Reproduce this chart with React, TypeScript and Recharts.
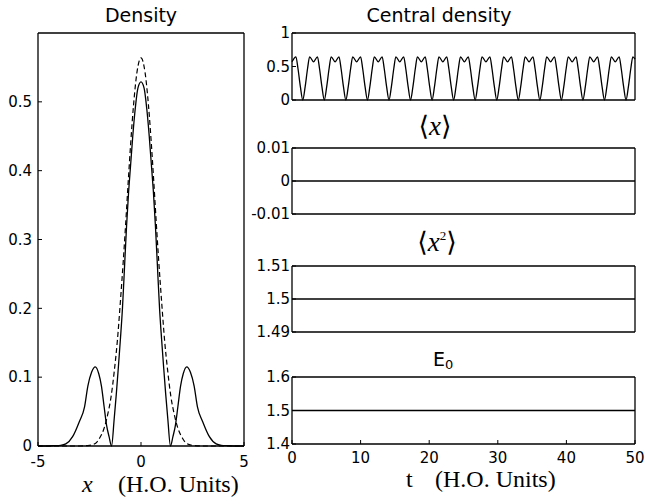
import { LineChart, Line, XAxis, YAxis } from 'recharts';

// Left panel: density profile vs x
const densityX = [-5, -4.6, -4.2, -3.9, -3.65, -3.32, -3.0, -2.74, -2.58, -2.4, -2.22, -2.05, -1.92, -1.79, -1.67, -1.55, -1.43, -1.3, -1.2, -1.1, -1.0, -0.9, -0.8, -0.7, -0.6, -0.5, -0.4, -0.28, -0.15, 0,
  0.15, 0.28, 0.4, 0.5, 0.6, 0.7, 0.8, 0.9, 1.0, 1.1, 1.2, 1.3, 1.43, 1.55, 1.67, 1.79, 1.92, 2.05, 2.22, 2.4, 2.58, 2.74, 3.0, 3.32, 3.65, 3.9, 4.2, 4.6, 5];
const densitySolid = [0, 0, 0.0005, 0.001, 0.003, 0.0136, 0.035, 0.057, 0.087, 0.107, 0.115, 0.105, 0.087, 0.057, 0.03, 0.0136, 0, 0.04, 0.075, 0.114, 0.155, 0.2, 0.26, 0.32, 0.37, 0.41, 0.45, 0.49, 0.52, 0.529,
  0.52, 0.49, 0.45, 0.41, 0.37, 0.32, 0.26, 0.2, 0.155, 0.114, 0.075, 0.04, 0, 0.0136, 0.03, 0.057, 0.087, 0.105, 0.115, 0.107, 0.087, 0.057, 0.035, 0.0136, 0.003, 0.001, 0.0005, 0, 0];

const dashedX = [-5, -3.5, -3, -2.5, -2.2, -2.0, -1.8, -1.6, -1.45, -1.3, -1.15, -1.0, -0.86, -0.75, -0.61, -0.5, -0.36, -0.2, 0,
  0.2, 0.36, 0.5, 0.61, 0.75, 0.86, 1.0, 1.15, 1.3, 1.45, 1.6, 1.8, 2.0, 2.2, 2.5, 3, 3.5, 5];
const densityDashed = [0, 0, 0, 0.001, 0.004, 0.012, 0.025, 0.048, 0.072, 0.108, 0.152, 0.21, 0.269, 0.32, 0.389, 0.44, 0.496, 0.542, 0.564,
  0.542, 0.496, 0.44, 0.389, 0.32, 0.269, 0.21, 0.152, 0.108, 0.072, 0.048, 0.025, 0.012, 0.004, 0.001, 0, 0, 0];

// Right panels: time series
const centralT = [
  0, 0.57, 0.87, 1.22, 1.57, 1.92, 2.27, 2.57,
  3.14, 3.71, 4.01, 4.36, 4.71, 5.06, 5.41, 5.71,
  6.28, 6.85, 7.15, 7.5, 7.85, 8.2, 8.55, 8.85,
  9.42, 10.0, 10.3, 10.65, 11.0, 11.35, 11.7, 12.0,
  12.57, 13.14, 13.44, 13.79, 14.14, 14.49, 14.84, 15.14,
  15.71, 16.28, 16.58, 16.93, 17.28, 17.63, 17.98, 18.28,
  18.85, 19.42, 19.72, 20.07, 20.42, 20.77, 21.12, 21.42,
  21.99, 22.56, 22.86, 23.21, 23.56, 23.91, 24.26, 24.56,
  25.13, 25.7, 26.0, 26.35, 26.7, 27.05, 27.4, 27.7,
  28.27, 28.85, 29.15, 29.5, 29.85, 30.2, 30.55, 30.85,
  31.42, 31.99, 32.29, 32.64, 32.99, 33.34, 33.69, 33.99,
  34.56, 35.13, 35.43, 35.78, 36.13, 36.48, 36.83, 37.13,
  37.7, 38.27, 38.57, 38.92, 39.27, 39.62, 39.97, 40.27,
  40.84, 41.41, 41.71, 42.06, 42.41, 42.76, 43.11, 43.41,
  43.98, 44.55, 44.85, 45.2, 45.55, 45.9, 46.25, 46.55,
  47.12, 47.69, 47.99, 48.34, 48.69, 49.04, 49.39, 49.69,
  50,
];
const centralRho = [
  0.57, 0.645, 0.47, 0.2, 0, 0.2, 0.47, 0.645,
  0.57, 0.645, 0.47, 0.2, 0, 0.2, 0.47, 0.645,
  0.57, 0.645, 0.47, 0.2, 0, 0.2, 0.47, 0.645,
  0.57, 0.645, 0.47, 0.2, 0, 0.2, 0.47, 0.645,
  0.57, 0.645, 0.47, 0.2, 0, 0.2, 0.47, 0.645,
  0.57, 0.645, 0.47, 0.2, 0, 0.2, 0.47, 0.645,
  0.57, 0.645, 0.47, 0.2, 0, 0.2, 0.47, 0.645,
  0.57, 0.645, 0.47, 0.2, 0, 0.2, 0.47, 0.645,
  0.57, 0.645, 0.47, 0.2, 0, 0.2, 0.47, 0.645,
  0.57, 0.645, 0.47, 0.2, 0, 0.2, 0.47, 0.645,
  0.57, 0.645, 0.47, 0.2, 0, 0.2, 0.47, 0.645,
  0.57, 0.645, 0.47, 0.2, 0, 0.2, 0.47, 0.645,
  0.57, 0.645, 0.47, 0.2, 0, 0.2, 0.47, 0.645,
  0.57, 0.645, 0.47, 0.2, 0, 0.2, 0.47, 0.645,
  0.57, 0.645, 0.47, 0.2, 0, 0.2, 0.47, 0.645,
  0.57, 0.645, 0.47, 0.2, 0, 0.2, 0.47, 0.645,
  0.61,
];

const flatT = [0, 10, 20, 30, 40, 50];
const meanX = [0, 0, 0, 0, 0, 0];
const meanX2 = [1.5, 1.5, 1.5, 1.5, 1.5, 1.5];
const energy = [1.5, 1.5, 1.5, 1.5, 1.5, 1.5];

const tTicks = [0, 10, 20, 30, 40, 50];

const solidData = densityX.map((x, i) => ({ x, y: densitySolid[i] }));
const dashedData = dashedX.map((x, i) => ({ x, y: densityDashed[i] }));
const centralData = centralT.map((t, i) => ({ t, v: centralRho[i] }));
const meanXData = flatT.map((t, i) => ({ t, v: meanX[i] }));
const meanX2Data = flatT.map((t, i) => ({ t, v: meanX2[i] }));
const energyData = flatT.map((t, i) => ({ t, v: energy[i] }));

const tickFont = { fill: '#000', fontSize: 15, fontFamily: 'DejaVu Sans' };
const axisLine = { stroke: '#000', strokeWidth: 1.3 };

interface PanelProps {
  top: number;
  data: { t: number; v: number }[];
  domain: [number, number];
  yTicks: number[];
  plotH: number;
  bottomH: number;
  showX?: boolean;
  type?: 'monotone' | 'linear';
}

function TimePanel({ top, data, domain, yTicks, plotH, bottomH, showX, type = 'linear' }: PanelProps) {
  const topH = 20;
  return (
    <div style={{ position: 'absolute', left: 240, top }}>
      <LineChart width={405} height={topH + plotH + bottomH} data={data} margin={{ top: 0, right: 0, bottom: 0, left: 0 }}>
        <XAxis xAxisId="b" dataKey="t" type="number" domain={[0, 50]} ticks={tTicks} orientation="bottom" height={bottomH}
          stroke="#000" axisLine={axisLine} tickSize={-4} tickMargin={12} tick={showX ? tickFont : false} />
        <XAxis xAxisId="t" dataKey="t" type="number" domain={[0, 50]} ticks={tTicks} orientation="top" height={topH}
          stroke="#000" axisLine={axisLine} tickSize={-4} tick={false} />
        <YAxis yAxisId="l" type="number" domain={domain} ticks={yTicks} width={52} stroke="#000" axisLine={axisLine}
          tickSize={-4} tickMargin={6} tick={tickFont} interval={0} />
        <YAxis yAxisId="r" orientation="right" type="number" domain={domain} ticks={yTicks} width={10} stroke="#000"
          axisLine={axisLine} tickSize={-4} tick={false} />
        <Line xAxisId="b" yAxisId="l" dataKey="v" type={type} stroke="#000" strokeWidth={1.3} dot={false} isAnimationActive={false} />
      </LineChart>
    </div>
  );
}

export default function App() {
  return (
    <div style={{ position: 'fixed', left: 0, top: 0, width: 645, height: 504, background: '#fff' }}>
      <div style={{ position: 'absolute', left: 0, top: 0 }}>
        <LineChart width={260} height={504} margin={{ top: 0, right: 0, bottom: 0, left: 0 }}>
          <XAxis xAxisId="b" dataKey="x" type="number" domain={[-5, 5]} ticks={[-5, 0, 5]} orientation="bottom" height={58}
            stroke="#000" axisLine={axisLine} tickSize={-4} tickMargin={14} tick={tickFont} />
          <XAxis xAxisId="t" dataKey="x" type="number" domain={[-5, 5]} ticks={[-5, 0, 5]} orientation="top" height={33}
            stroke="#000" axisLine={axisLine} tickSize={-4} tick={false} />
          <YAxis yAxisId="l" type="number" domain={[0, 0.6]} ticks={[0, 0.1, 0.2, 0.3, 0.4, 0.5]} width={38} stroke="#000"
            axisLine={axisLine} tickSize={-4} tickMargin={10} tick={tickFont} interval={0} />
          <YAxis yAxisId="r" orientation="right" type="number" domain={[0, 0.6]} ticks={[0, 0.1, 0.2, 0.3, 0.4, 0.5]} width={16}
            stroke="#000" axisLine={axisLine} tickSize={-4} tick={false} />
          <Line xAxisId="b" yAxisId="l" data={dashedData} dataKey="y" type="monotone" stroke="#000" strokeWidth={1.2}
            strokeDasharray="5 3" dot={false} isAnimationActive={false} />
          <Line xAxisId="b" yAxisId="l" data={solidData} dataKey="y" type="monotone" stroke="#000" strokeWidth={1.3}
            dot={false} isAnimationActive={false} />
        </LineChart>
      </div>

      <TimePanel top={13} data={centralData} domain={[0, 1]} yTicks={[0, 0.5, 1]} plotH={67} bottomH={30} type="monotone" />
      <TimePanel top={128} data={meanXData} domain={[-0.01, 0.01]} yTicks={[-0.01, 0, 0.01]} plotH={66} bottomH={30} />
      <TimePanel top={246} data={meanX2Data} domain={[1.49, 1.51]} yTicks={[1.49, 1.5, 1.51]} plotH={66} bottomH={30} />
      <TimePanel top={357} data={energyData} domain={[1.4, 1.6]} yTicks={[1.4, 1.5, 1.6]} plotH={67} bottomH={60} showX />

      <svg width={645} height={504} style={{ position: 'absolute', left: 0, top: 0, pointerEvents: 'none' }}>
        <g fontFamily="DejaVu Sans" fontSize={19} fill="#000">
          <text x={141} y={22} textAnchor="middle">Density</text>
          <text x={439} y={22} textAnchor="middle">Central density</text>
          <text x={433} y={366}>E<tspan fontSize={13} dy={3}>0</tspan></text>
        </g>
        <g fontFamily="Liberation Serif, DejaVu Serif" fontSize={27} fill="#000">
          <text x={435} y={135} textAnchor="middle">⟨<tspan fontStyle="italic">x</tspan>⟩</text>
          <text x={437} y={251} textAnchor="middle">⟨<tspan fontStyle="italic">x</tspan><tspan fontSize={13} dy={-11}>2</tspan><tspan dy={11}>⟩</tspan></text>
        </g>
        <g fontFamily="Liberation Serif" fontSize={24} fill="#000">
          <text x={82} y={492} fontStyle="italic">x</text>
          <text x={118} y={492}>(H.O. Units)</text>
          <text x={406} y={487}>t</text>
          <text x={435} y={487}>(H.O. Units)</text>
        </g>
      </svg>
    </div>
  );
}
